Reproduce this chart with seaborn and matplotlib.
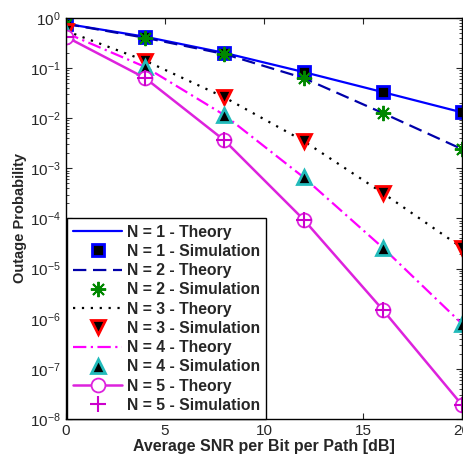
import matplotlib
matplotlib.use("Agg")
import matplotlib.pyplot as plt
import seaborn as sns
import numpy as np
import pandas as pd

snr = [0, 4, 8, 12, 16, 20]
n1 = [0.76, 0.42, 0.20, 0.083, 0.033, 0.013]
n2 = [0.76, 0.40, 0.19, 0.063, 0.0126, 0.0024]
n3 = [0.55, 0.14, 0.026, 0.0035, 3.2e-4, 2.6e-5]
n4 = [0.50, 0.105, 0.0115, 6.6e-4, 2.6e-5, 7.9e-7]
n5 = [0.42, 0.063, 3.6e-3, 9.5e-5, 1.5e-6, 1.9e-8]
series = [n1, n2, n3, n4, n5]
xticks = [0, 5, 10, 15, 20]

sns.set_style("ticks")
plt.rcParams['font.family'] = ['Liberation Sans', 'DejaVu Sans']
plt.rcParams['mathtext.fontset'] = 'custom'
plt.rcParams['mathtext.rm'] = 'Liberation Sans'
plt.rcParams['mathtext.it'] = 'Liberation Sans'

fig = plt.figure(figsize=(4.64, 4.57), dpi=100)
ax = fig.add_axes([0.142, 0.083, 0.854, 0.878])

line_styles = [
    dict(color='#0000ff', linestyle='-', marker=None),
    dict(color='#0000aa', linestyle=(0, (6, 3)), marker=None),
    dict(color='black', linestyle=(0, (1, 3)), marker=None),
    dict(color='#ff00ff', linestyle=(0, (6, 2, 1, 2)), marker=None),
    dict(color='#dd22dd', linestyle='-', marker='o', markersize=10, markerfacecolor='white',
         markeredgecolor='#dd22dd', markeredgewidth=1.3),
]
mark_styles = [
    dict(marker='s', markersize=9, markerfacecolor='black', markeredgecolor='#0000ff', markeredgewidth=2),
    dict(marker=(8, 2, 0), markersize=11, markeredgecolor='#008800', markeredgewidth=1.4, color='#008800'),
    dict(marker='v', markersize=10, markerfacecolor='black', markeredgecolor='#ff0000', markeredgewidth=2),
    dict(marker='^', markersize=10, markerfacecolor='black', markeredgecolor='#22bbbb', markeredgewidth=2),
    dict(marker='+', markersize=11, markeredgecolor='#cc00cc', markeredgewidth=1.5, color='#cc00cc'),
]

for i, vals in enumerate(series):
    n = i + 1
    df = pd.DataFrame({'snr': snr, 'p': vals})
    ls = dict(line_styles[i])
    sns.lineplot(data=df, x='snr', y='p', ax=ax, linewidth=1.6 if i != 4 else 1.8,
                 label=f'N = {n} - Theory', **ls)
    ms = dict(mark_styles[i])
    sns.lineplot(data=df, x='snr', y='p', ax=ax, linestyle='none',
                 label=f'N = {n} - Simulation', **ms)

ax.set_yscale('log')
ax.set_xlim(0, 20)
ax.set_ylim(1e-8, 1)
ax.set_xticks(xticks)
ax.set_yticks([10.0**k for k in range(-8, 1)])
ax.tick_params(direction='in', which='both', top=True, right=True, labelsize=11, length=4)
ax.tick_params(which='minor', length=2)
for s in ax.spines.values():
    s.set_color('black')
    s.set_linewidth(1.0)
ax.set_xlabel('Average SNR per Bit per Path [dB]', fontsize=11.5, fontweight='bold', labelpad=1)
ax.set_ylabel('Outage Probability', fontsize=10.5, fontweight='bold', labelpad=2)

leg = ax.legend(loc='lower left', bbox_to_anchor=(0.003, 0.0), borderaxespad=0.0,
                prop={'weight': 'bold', 'size': 11.3}, handlelength=3.1, frameon=True,
                fancybox=False, edgecolor='black', framealpha=1, labelspacing=0.27,
                borderpad=0.4, handletextpad=0.3)
leg.get_frame().set_linewidth(1.0)

fig.savefig('out.png', dpi=100)
